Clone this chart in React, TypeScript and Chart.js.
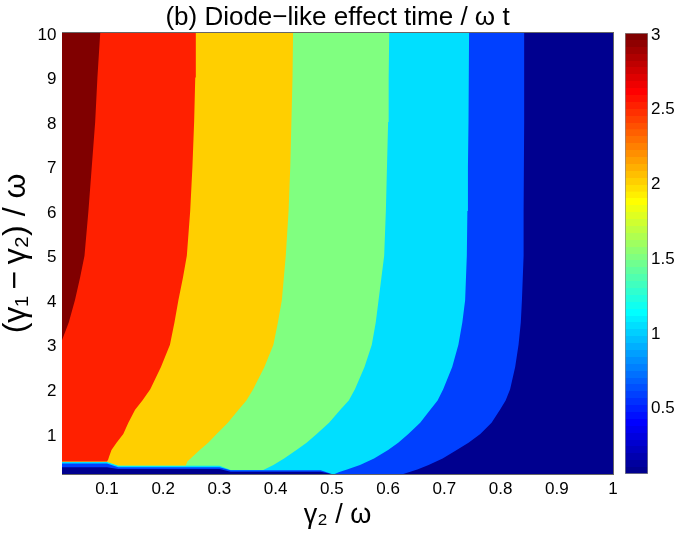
import React, { useEffect, useRef } from 'react';
import { Chart, registerables } from 'chart.js';

Chart.register(...registerables);

const FONT = "'Liberation Sans', 'DejaVu Sans', Arial, sans-serif";

// ---- axes ----
const X_MIN = 0.02;
const X_MAX = 1;
const Y_MIN = 0.1;
const Y_MAX = 10;
const X_TICKS = [0.1, 0.2, 0.3, 0.4, 0.5, 0.6, 0.7, 0.8, 0.9, 1];
const X_TICK_LABELS = ['0.1', '0.2', '0.3', '0.4', '0.5', '0.6', '0.7', '0.8', '0.9', '1'];
const Y_TICKS = [1, 2, 3, 4, 5, 6, 7, 8, 9, 10];
const Y_TICK_LABELS = ['1', '2', '3', '4', '5', '6', '7', '8', '9', '10'];

// ---- colorbar ----
const CB_MIN = 0.05;
const CB_MAX = 3;
const CB_TICKS = [0.5, 1, 1.5, 2, 2.5, 3];
const CB_TICK_LABELS = ['0.5', '1', '1.5', '2', '2.5', '3'];

// ---- contour levels (lower bound of each filled band) ----
const LEVELS = ['< 0.5', '0.5', '1', '1.5', '2', '2.5', '3'];
const LEVEL_COLORS = ['#00008F', '#0040FF', '#00DFFF', '#80FF80', '#FFCF00', '#FF2000', '#800000'];

// Contour lines [x, y], from the top (y = 10) downwards
const EDGE_00 = [[1, 10], [1, 0.1]];
const EDGE_05 = [[0.842, 10], [0.842, 8], [0.841, 6], [0.841, 5], [0.838, 4], [0.836, 3.5], [0.832, 3], [0.826, 2.5], [0.817, 2], [0.809, 1.75], [0.799, 1.54], [0.784, 1.25], [0.764, 1], [0.743, 0.8], [0.722, 0.64], [0.697, 0.45], [0.672, 0.3], [0.652, 0.2], [0.627, 0.1]];
const EDGE_10 = [[0.744, 10], [0.743, 8], [0.742, 7], [0.741, 6], [0.74, 5], [0.737, 4], [0.732, 3.5], [0.725, 3], [0.714, 2.5], [0.698, 2], [0.688, 1.75], [0.675, 1.54], [0.657, 1.25], [0.636, 1], [0.618, 0.8], [0.6, 0.64], [0.575, 0.45], [0.55, 0.3], [0.527, 0.2], [0.512, 0.14], [0.505, 0.1]];
const EDGE_15 = [[0.602, 10], [0.601, 9], [0.6, 8], [0.598, 7], [0.596, 6], [0.593, 5], [0.583, 4], [0.578, 3.5], [0.571, 3], [0.558, 2.5], [0.541, 2], [0.53, 1.75], [0.515, 1.54], [0.495, 1.25], [0.473, 1], [0.455, 0.8], [0.437, 0.64], [0.415, 0.45], [0.396, 0.3], [0.378, 0.19]];
const EDGE_20 = [[0.431, 10], [0.43, 9], [0.428, 8], [0.426, 7], [0.423, 6], [0.418, 5], [0.411, 4], [0.404, 3.5], [0.396, 3], [0.38, 2.5], [0.36, 2], [0.348, 1.75], [0.334, 1.54], [0.315, 1.25], [0.295, 1], [0.28, 0.8], [0.265, 0.64], [0.253, 0.5], [0.243, 0.38], [0.24, 0.29]];
const EDGE_25 = [[0.258, 10], [0.257, 9], [0.255, 8], [0.252, 7], [0.248, 6], [0.242, 5], [0.235, 4.5], [0.227, 4], [0.22, 3.5], [0.212, 3], [0.196, 2.5], [0.177, 2], [0.163, 1.75], [0.15, 1.54], [0.138, 1.25], [0.129, 1], [0.117, 0.8], [0.108, 0.64], [0.104, 0.5], [0.102, 0.42]];
const EDGE_30 = [[0.088, 10], [0.083, 9], [0.079, 8], [0.073, 7], [0.067, 6], [0.06, 5], [0.052, 4.5], [0.043, 4], [0.032, 3.5], [0.02, 3.1]];

// Lower edges of each band (the thin stripes near y = 0.1 .. 0.4), left to right
const FLOOR_00 = [[0.02, 0.1]];
const FLOOR_05 = [[0.02, 0.25], [0.1, 0.25], [0.12, 0.21], [0.3, 0.21], [0.32, 0.15], [0.48, 0.15], [0.5, 0.1]];
const FLOOR_10 = [[0.02, 0.335], [0.1, 0.335], [0.12, 0.25], [0.3, 0.25], [0.32, 0.185], [0.48, 0.185], [0.5, 0.1]];
const FLOOR_15 = [[0.02, 0.37], [0.1, 0.37], [0.12, 0.285], [0.3, 0.285], [0.32, 0.19]];
const FLOOR_20 = [[0.02, 0.375], [0.1, 0.375], [0.12, 0.29]];
const FLOOR_25 = [[0.02, 0.38], [0.1, 0.38]];
const FLOOR_30 = [[0.02, 3.1]];

const EDGES = [EDGE_00, EDGE_05, EDGE_10, EDGE_15, EDGE_20, EDGE_25, EDGE_30];
const FLOORS = [FLOOR_00, FLOOR_05, FLOOR_10, FLOOR_15, FLOOR_20, FLOOR_25, FLOOR_30];

function polygon(edge: number[][], floor: number[][]) {
  const pts: { x: number; y: number }[] = [{ x: X_MIN, y: Y_MAX }];
  floor.forEach(([x, y]) => pts.push({ x, y }));
  [...edge].reverse().forEach(([x, y]) => pts.push({ x, y }));
  return pts;
}

function jet64(k: number) {
  const u = (j: number) => (j < 1 || j > 47 ? 0 : j <= 16 ? j / 16 : j <= 31 ? 1 : (48 - j) / 16);
  const r = u(k - 24);
  const g = u(k - 8);
  const b = u(k + 8);
  return `rgb(${Math.round(r * 255)},${Math.round(g * 255)},${Math.round(b * 255)})`;
}

const tickFont = { family: FONT, size: 17 };

export default function App() {
  const mainRef = useRef<HTMLCanvasElement | null>(null);
  const cbRef = useRef<HTMLCanvasElement | null>(null);

  useEffect(() => {
    const main = new Chart(mainRef.current as HTMLCanvasElement, {
      type: 'scatter',
      data: {
        datasets: LEVELS.map((lv, i) => ({
          label: lv,
          data: polygon(EDGES[i], FLOORS[i]),
          showLine: true,
          fill: 'shape',
          backgroundColor: LEVEL_COLORS[i],
          borderColor: 'rgba(0,0,0,0)',
          borderWidth: 0,
          pointRadius: 0,
          pointHoverRadius: 0,
          tension: 0,
          order: LEVELS.length - i,
        })) as any,
      },
      options: {
        responsive: false,
        animation: false,
        events: [],
        layout: { padding: { left: 0, right: 62, top: 0, bottom: 0 } },
        plugins: {
          legend: { display: false },
          tooltip: { enabled: false },
          title: {
            display: true,
            text: '(b) Diode−like effect time / ω t',
            color: '#000',
            font: { family: FONT, size: 26, weight: 'normal', lineHeight: 1.15 },
            padding: { top: 3, bottom: 0 },
            fullSize: false,
          },
        },
        scales: {
          x: {
            type: 'linear',
            position: 'bottom',
            min: X_MIN,
            max: X_MAX,
            afterBuildTicks: (s: any) => { s.ticks = X_TICKS.map((v) => ({ value: v })); },
            afterFit: (s: any) => { s.height = 62; },
            ticks: {
              callback: (_v: any, i: number) => X_TICK_LABELS[i],
              font: tickFont,
              color: '#000',
              padding: 10,
              maxRotation: 0,
              autoSkip: false,
            },
            grid: { drawOnChartArea: false, drawTicks: true, tickLength: -5, color: '#222', lineWidth: 1 },
            border: { display: true, color: '#666', width: 1 },
            title: {
              display: true,
              text: 'γ₂ / ω',
              color: '#000',
              font: { family: FONT, size: 27, lineHeight: 1.2 },
              padding: { top: 0, bottom: 4 },
            },
          },
          x2: {
            type: 'linear',
            position: 'top',
            min: X_MIN,
            max: X_MAX,
            afterBuildTicks: (s: any) => { s.ticks = X_TICKS.map((v) => ({ value: v })); },
            afterFit: (s: any) => { s.height = 0; },
            ticks: { display: false },
            grid: { drawOnChartArea: false, drawTicks: true, tickLength: -5, color: '#222', lineWidth: 1 },
            border: { display: true, color: '#666', width: 1 },
          },
          y: {
            type: 'linear',
            position: 'left',
            min: Y_MIN,
            max: Y_MAX,
            afterBuildTicks: (s: any) => { s.ticks = Y_TICKS.map((v) => ({ value: v })); },
            afterFit: (s: any) => { s.width = 62; },
            ticks: {
              callback: (_v: any, i: number) => Y_TICK_LABELS[i],
              font: tickFont,
              color: '#000',
              padding: 10.5,
              labelOffset: 2,
              autoSkip: false,
            },
            grid: { drawOnChartArea: false, drawTicks: true, tickLength: -5, color: '#222', lineWidth: 1 },
            border: { display: true, color: '#666', width: 1 },
            title: {
              display: true,
              text: '(γ₁\u2009−\u2009γ₂) / ω',
              color: '#000',
              font: { family: FONT, size: 32, lineHeight: 1 },
              padding: { top: 0, bottom: 0 },
            },
          },
          y2: {
            type: 'linear',
            position: 'right',
            min: Y_MIN,
            max: Y_MAX,
            afterBuildTicks: (s: any) => { s.ticks = Y_TICKS.map((v) => ({ value: v })); },
            afterFit: (s: any) => { s.width = 0; },
            ticks: { display: false },
            grid: { drawOnChartArea: false, drawTicks: true, tickLength: -5, color: '#222', lineWidth: 1 },
            border: { display: true, color: '#666', width: 1 },
          },
        },
      } as any,
    });

    const cb = new Chart(cbRef.current as HTMLCanvasElement, {
      type: 'bar',
      data: {
        labels: [''],
        datasets: [
          {
            label: 'colorbar',
            data: [[CB_MIN, CB_MAX]] as any,
            backgroundColor: (c: any) => {
              const chart = c.chart;
              const ys = chart.scales && chart.scales.y;
              if (!ys) return '#00008F';
              const y0 = ys.getPixelForValue(CB_MIN);
              const y1 = ys.getPixelForValue(CB_MAX);
              if (!isFinite(y0) || !isFinite(y1) || y0 === y1) return '#00008F';
              const grad = chart.ctx.createLinearGradient(0, y0, 0, y1);
              for (let k = 1; k <= 64; k++) {
                const col = jet64(k);
                grad.addColorStop((k - 1) / 64, col);
                grad.addColorStop(Math.min(1, k / 64 - 0.0001), col);
              }
              return grad;
            },
            borderColor: '#888',
            borderWidth: 1,
            borderSkipped: false,
            barPercentage: 1,
            categoryPercentage: 1,
          },
        ],
      },
      options: {
        responsive: false,
        animation: false,
        events: [],
        layout: { padding: { left: 10, right: 0, top: 33, bottom: 62 } },
        plugins: { legend: { display: false }, tooltip: { enabled: false }, title: { display: false } },
        scales: {
          x: { display: false },
          y: {
            type: 'linear',
            position: 'right',
            min: CB_MIN,
            max: CB_MAX,
            afterBuildTicks: (s: any) => { s.ticks = CB_TICKS.map((v) => ({ value: v })); },
            afterFit: (s: any) => { s.width = 27; },
            ticks: {
              callback: (_v: any, i: number) => CB_TICK_LABELS[i],
              font: tickFont,
              color: '#000',
              padding: 7,
              labelOffset: 2,
              autoSkip: false,
            },
            grid: { drawOnChartArea: false, drawTicks: true, tickLength: -4, color: '#333', lineWidth: 1 },
            border: { display: false },
          },
          y2: {
            type: 'linear',
            position: 'left',
            min: CB_MIN,
            max: CB_MAX,
            afterBuildTicks: (s: any) => { s.ticks = CB_TICKS.map((v) => ({ value: v })); },
            afterFit: (s: any) => { s.width = 0; },
            ticks: { display: false },
            grid: { drawOnChartArea: false, drawTicks: true, tickLength: -4, color: '#333', lineWidth: 1 },
            border: { display: false },
          },
        },
      } as any,
    });
    cb.update();

    return () => {
      main.destroy();
      cb.destroy();
    };
  }, []);

  return (
    <div style={{ position: 'fixed', left: 0, top: 0, width: 675, height: 536, background: '#fff' }}>
      <canvas ref={mainRef} width={675} height={536} style={{ position: 'absolute', left: 0, top: 0, display: 'block' }} />
      <canvas ref={cbRef} width={60} height={536} style={{ position: 'absolute', left: 615, top: 0, display: 'block' }} />
    </div>
  );
}
